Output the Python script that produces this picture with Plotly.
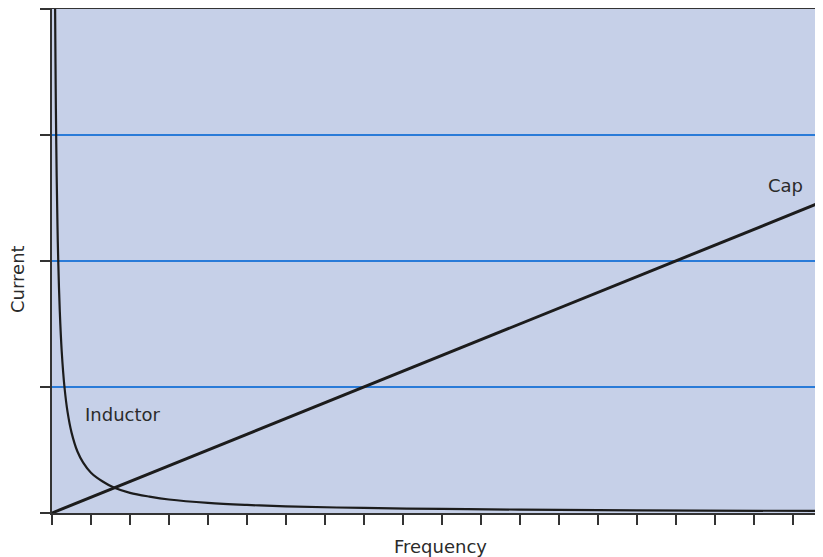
import plotly.graph_objects as go

# frequency / current readings taken off the chart (axis units: 1 per tick)
inductor_freq = [0.075, 0.08, 0.09, 0.1, 0.12, 0.14, 0.16, 0.2, 0.25, 0.32, 0.4, 0.5,
                 0.65, 0.8, 1.0, 1.3, 1.6, 2.0, 2.5, 3.0, 4.0, 5.0, 6.0, 8.0,
                 10.0, 12.0, 15.0, 19.8]
inductor_current = [4.27, 4.0, 3.56, 3.2, 2.67, 2.29, 2.0, 1.6, 1.28, 1.0, 0.8, 0.64,
                    0.49, 0.4, 0.32, 0.25, 0.2, 0.16, 0.13, 0.107, 0.08, 0.064, 0.053, 0.04,
                    0.032, 0.027, 0.021, 0.016]

cap_freq = [0, 8, 16, 19.8]
cap_current = [0, 1.0, 2.0, 2.475]

x_ticks = list(range(0, 20))
y_ticks = [0, 1, 2, 3, 4]

fig = go.Figure()

fig.add_trace(go.Scatter(
    x=inductor_freq,
    y=inductor_current,
    mode="lines",
    line=dict(color="#1c1c1c", width=2.2, shape="spline"),
    name="Inductor"
))

fig.add_trace(go.Scatter(
    x=cap_freq,
    y=cap_current,
    mode="lines",
    line=dict(color="#1c1c1c", width=3),
    name="Cap"
))

fig.add_annotation(x=1.82, y=0.78, text="Inductor", showarrow=False,
                   xanchor="center", yanchor="middle")
fig.add_annotation(x=18.83, y=2.6, text="Cap", showarrow=False,
                   xanchor="center", yanchor="middle")
fig.add_annotation(x=-0.045, y=0.465, xref="paper", yref="paper", text="Current",
                   textangle=-90, showarrow=False, xanchor="center", yanchor="middle")
fig.add_annotation(x=0.5045, y=-0.066, xref="paper", yref="paper", text="Frequency",
                   showarrow=False, xanchor="center", yanchor="middle")

# page body adds an 8px offset, so the figure is sized to fill the rest of the window
fig.update_layout(
    width=815,
    height=549,
    margin=dict(l=44, r=0, t=1, b=44),
    paper_bgcolor="white",
    plot_bgcolor="#c6d0e8",
    showlegend=False,
    font=dict(family="DejaVu Sans", size=18, color="#2b2b2b"),
    xaxis=dict(
        range=[0, 19.78],
        tickvals=x_ticks,
        showticklabels=False,
        ticks="outside",
        ticklen=10,
        tickwidth=1.5,
        tickcolor="#333333",
        showgrid=False,
        zeroline=False,
        showline=True,
        linecolor="#333333",
        linewidth=2,
        mirror=True,
    ),
    yaxis=dict(
        range=[0, 4],
        tickvals=y_ticks,
        showticklabels=False,
        ticks="outside",
        ticklen=10,
        tickwidth=1.5,
        tickcolor="#333333",
        showgrid=True,
        gridcolor="#2a7bd8",
        gridwidth=1.5,
        zeroline=False,
        showline=True,
        linecolor="#333333",
        linewidth=1.5,
    ),
)

fig.write_html("out.html")
